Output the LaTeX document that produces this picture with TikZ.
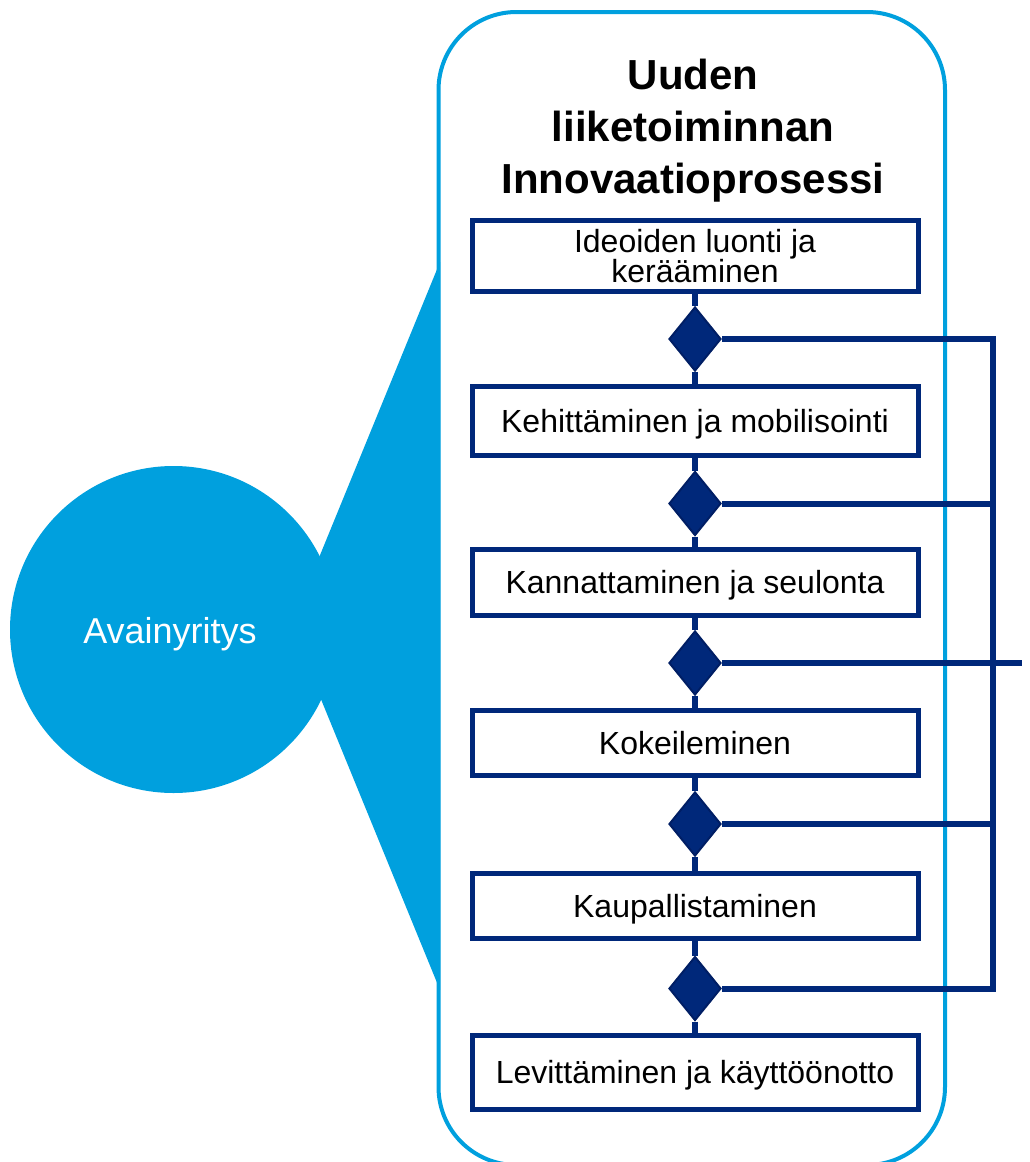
\documentclass[tikz,border=0pt]{standalone}
\usepackage{fontspec}
\setmainfont{Liberation Sans}
\usetikzlibrary{shapes.geometric}
\definecolor{navy}{RGB}{0,40,122}
\definecolor{navyedge}{RGB}{0,30,100}
\definecolor{sky}{RGB}{0,160,222}
\begin{document}
\begin{tikzpicture}[x=1pt,y=-1pt,
  stepbox/.style={draw=navy,line width=5pt,fill=white,minimum width=446pt,
    inner sep=0pt,align=center,font=\fontsize{32}{28}\selectfont},
  oneline/.style={text height=23pt,text depth=0pt},
  gate/.style={shape=diamond,draw=navyedge,line width=2pt,fill=navy,inner sep=0pt,
    minimum width=52pt,minimum height=64pt},
  link/.style={draw=navy,line width=6pt}]
\useasboundingbox (0,0) rectangle (1029,1162);
\clip (0,0) rectangle (1029,1162);

% wedge joining the company circle to the process frame
\fill[sky] (440,262) -- (291,626) -- (440,990) -- cycle;
\node[circle,fill=sky,minimum size=327pt,inner sep=0pt] (firm) at (173.5,629.5) {};
\node[text=white,font=\fontsize{36}{40}\selectfont,anchor=base] (firmlabel) at (170,643) {Avainyritys};

% process frame
\draw[sky,line width=4pt,rounded corners=78pt] (438.5,12) rectangle (945,1165);

% title (anchored at the baseline of its last line)
\node[align=center,font=\fontsize{42}{52}\selectfont\bfseries,anchor=base] (title) at (693,193)
  {Uuden\\liiketoiminnan\\Innovaatioprosessi};

% process steps
\node[stepbox,minimum height=71pt] (s1) at (695,256) {Ideoiden luonti ja\\kerääminen};
\node[stepbox,oneline,minimum height=69pt] (s2) at (695,420.5) {Kehittäminen ja mobilisointi};
\node[stepbox,oneline,minimum height=66pt] (s3) at (695,582) {Kannattaminen ja seulonta};
\node[stepbox,oneline,minimum height=65pt] (s4) at (695,742.5) {Kokeileminen};
\node[stepbox,oneline,minimum height=65pt] (s5) at (695,905.5) {Kaupallistaminen};
\node[stepbox,oneline,minimum height=74pt] (s6) at (695,1072) {Levittäminen ja käyttöönotto};

% decision gates
\node[gate] (g1) at (695,339) {};
\node[gate] (g2) at (695,503.5) {};
\node[gate] (g3) at (695,663) {};
\node[gate] (g4) at (695,824) {};
\node[gate] (g5) at (695,988.5) {};

% main flow
\draw[link] (s1) -- (g1);
\draw[link] (g1) -- (s2);
\draw[link] (s2) -- (g2);
\draw[link] (g2) -- (s3);
\draw[link] (s3) -- (g3);
\draw[link] (g3) -- (s4);
\draw[link] (s4) -- (g4);
\draw[link] (g4) -- (s5);
\draw[link] (s5) -- (g5);
\draw[link] (g5) -- (s6);

% feedback bus on the right
\coordinate (bus) at (993,0);
\coordinate (exit) at (1022,663);
\draw[link] (g1.east) -- (g1.east -| bus) -- (g5.east -| bus) -- (g5.east);
\draw[link] (g2.east) -- (g2.east -| bus);
\draw[link] (g4.east) -- (g4.east -| bus);
\draw[link] (g3.east) -- (exit);
\end{tikzpicture}
\end{document}
